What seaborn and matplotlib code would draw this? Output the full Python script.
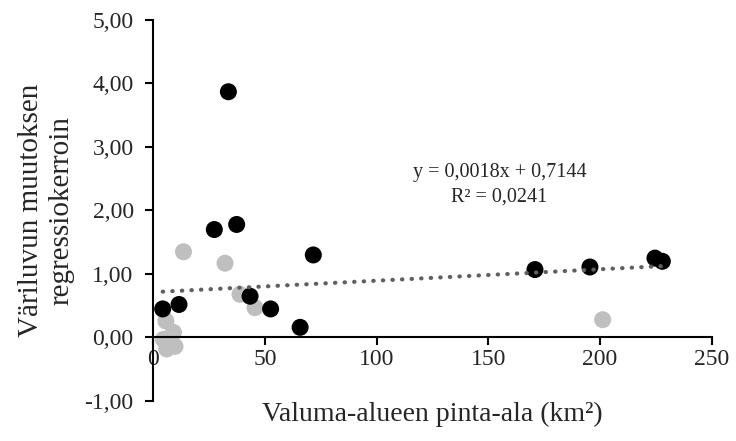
import matplotlib
matplotlib.use("Agg")
import matplotlib.pyplot as plt
import seaborn as sns
import numpy as np
import pandas as pd
from matplotlib.ticker import FuncFormatter

# Data
black_x = [4.3, 11.6, 27.4, 33.7, 37.4, 43.4, 52.6, 65.8, 71.7, 170.9, 195.5, 224.6, 227.9]
black_y = [0.45, 0.52, 1.70, 3.87, 1.78, 0.65, 0.45, 0.16, 1.30, 1.07, 1.11, 1.25, 1.20]
gray_x = [13.6, 32.2, 38.9, 45.6, 5.7, 9.1, 4.6, 6.1, 9.8, 7.5, 201.2]
gray_y = [1.35, 1.17, 0.68, 0.47, 0.26, 0.08, -0.03, -0.18, -0.14, -0.05, 0.28]
trend_slope = 0.0018
trend_intercept = 0.7144
trend_x_range = [4.3, 227.9]
equation_text = "y = 0,0018x + 0,7144\nR² = 0,0241"
x_label = "Valuma-alueen pinta-ala (km²)"
y_label = "Väriluvun muutoksen\nregressiokerroin"
x_ticks = [0, 50, 100, 150, 200, 250]
y_ticks = [-1, 0, 1, 2, 3, 4, 5]

sns.set_style("white")
plt.rcParams['font.family'] = ['Liberation Serif', 'DejaVu Serif']

fig = plt.figure(figsize=(7.36, 4.41), dpi=100)
ax = fig.add_axes([0.208, 0.0907, 0.759, 0.864])

df_g = pd.DataFrame({"x": gray_x, "y": gray_y})
df_b = pd.DataFrame({"x": black_x, "y": black_y})
sns.scatterplot(data=df_g, x="x", y="y", ax=ax, color="#BFBFBF", s=150,
                edgecolor="none", zorder=2)
sns.scatterplot(data=df_b, x="x", y="y", ax=ax, color="black", s=150,
                edgecolor="none", zorder=3)

tx = np.array(trend_x_range)
ax.plot(tx, trend_slope * tx + trend_intercept, linestyle=(0, (0.1, 2.2)),
        dash_capstyle="round", color="#606060", linewidth=3, zorder=4)

ax.text(155, 2.40, equation_text, ha="center", va="center",
        fontsize=14.5, linespacing=1.4)

ax.set_xlim(0, 250)
ax.set_ylim(-1, 5)
ax.set_xticks(x_ticks)
ax.set_yticks(y_ticks)
ax.yaxis.set_major_formatter(FuncFormatter(lambda v, p: f"{v:.2f}".replace(".", ",")))
ax.xaxis.set_major_formatter(FuncFormatter(lambda v, p: f"{int(v)}"))

for s in ["top", "right"]:
    ax.spines[s].set_visible(False)
for s in ["left", "bottom"]:
    ax.spines[s].set_color("black")
    ax.spines[s].set_linewidth(1.5)
ax.spines["bottom"].set_position(("data", 0))

ax.tick_params(axis="both", direction="out", length=6, width=1.5, color="black",
               labelsize=17, bottom=True, left=True)
ax.tick_params(axis="x", pad=2)
ax.tick_params(axis="y", pad=8)

ax.set_xlabel(x_label, fontsize=20, va="center")
ax.set_ylabel(y_label, fontsize=21, linespacing=1.25)
ax.xaxis.set_label_coords(0.5, -0.035)
ax.yaxis.set_label_coords(-0.14, 0.5)

fig.savefig("out.png", dpi=100)
